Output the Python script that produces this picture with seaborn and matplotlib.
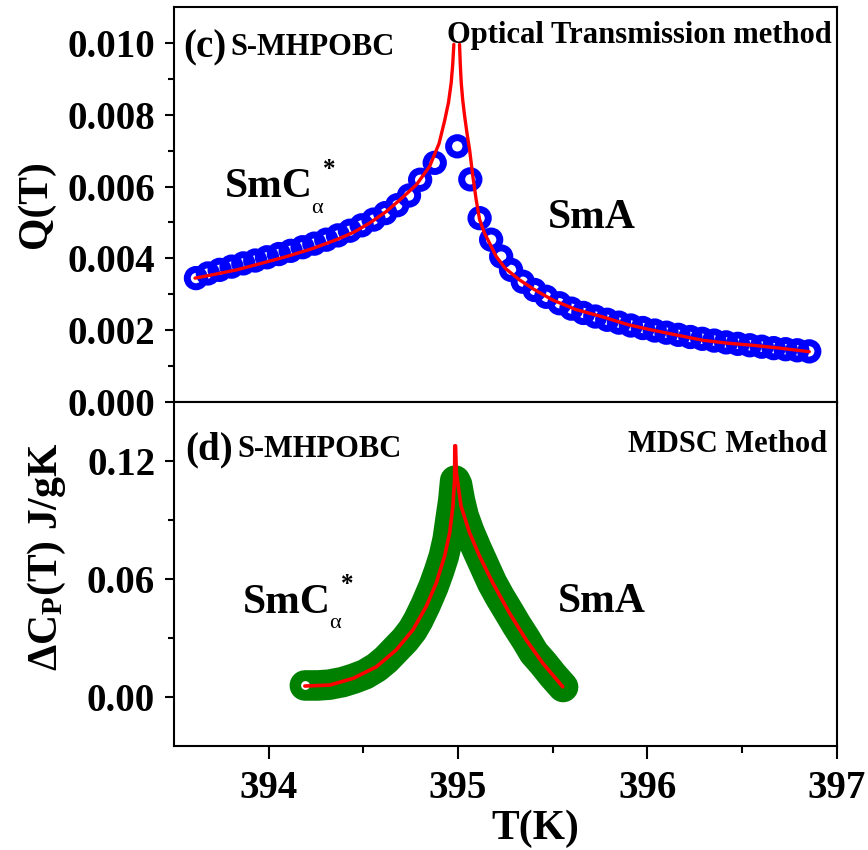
import numpy as np
import pandas as pd
import matplotlib
matplotlib.use("Agg")
import matplotlib.pyplot as plt
import seaborn as sns
from matplotlib.ticker import FixedLocator, FormatStrFormatter

# ---------------- data ----------------
# (c) Optical transmission: measured Q(T)
q_T = [393.616, 393.679, 393.741, 393.804, 393.866, 393.929, 393.991, 394.054,
       394.116, 394.179, 394.241, 394.304, 394.366, 394.429, 394.491, 394.554,
       394.616, 394.679, 394.741, 394.800, 394.877,
       394.996, 395.065, 395.114, 395.175, 395.228, 395.280, 395.342, 395.404,
       395.466, 395.536, 395.599, 395.662, 395.725, 395.788, 395.850, 395.913,
       395.976, 396.039, 396.101, 396.164, 396.227, 396.290, 396.353, 396.416,
       396.478, 396.541, 396.604, 396.667, 396.730, 396.792, 396.855]
q_val = [0.00345, 0.00358, 0.00368, 0.00377, 0.00386, 0.00394, 0.00403, 0.00412,
         0.00421, 0.00431, 0.00441, 0.00452, 0.00464, 0.00477, 0.00492, 0.00508,
         0.00526, 0.00548, 0.00575, 0.00619, 0.00666,
         0.00712, 0.00620, 0.00512, 0.00452, 0.00405, 0.00368, 0.00335, 0.00312,
         0.00293, 0.00275, 0.00260, 0.00248, 0.00238, 0.00229, 0.00221, 0.00213,
         0.00206, 0.00199, 0.00193, 0.00187, 0.00181, 0.00176, 0.00171, 0.00166,
         0.00162, 0.00158, 0.00154, 0.00150, 0.00147, 0.00144, 0.00141]

# (c) fit curve, SmC_alpha* side and SmA side
fitq_low_T = [393.611, 393.72, 393.831, 393.96, 394.094, 394.23, 394.358, 394.45,
              394.532, 394.62, 394.708, 394.78, 394.85, 394.90, 394.93, 394.95,
              394.964, 394.972, 394.978]
fitq_low_v = [0.00345, 0.00356, 0.00368, 0.00386, 0.00405, 0.00427, 0.00452, 0.00473,
              0.00498, 0.00530, 0.00570, 0.00605, 0.00656, 0.00720, 0.00785, 0.00835,
              0.00889, 0.00940, 0.00996]
fitq_high_T = [395.008, 395.012, 395.017, 395.025, 395.035, 395.047, 395.061, 395.078,
               395.096, 395.114, 395.14, 395.167, 395.202, 395.25, 395.325, 395.40,
               395.50, 395.62, 395.764, 395.90, 396.028, 396.16, 396.292, 396.42,
               396.556, 396.70, 396.855]
fitq_high_v = [0.00996, 0.00940, 0.00889, 0.00840, 0.00796, 0.00750, 0.00703, 0.00630,
               0.00563, 0.00508, 0.00470, 0.00442, 0.00405, 0.00372, 0.00340, 0.00314,
               0.00284, 0.00258, 0.00237, 0.00215, 0.00200, 0.00186, 0.00172, 0.00164,
               0.00158, 0.00150, 0.00140]

# (d) MDSC: measured delta Cp (ordered on cooling, high T -> low T)
cp_T = [395.555, 395.50, 395.45, 395.40, 395.36, 395.31, 395.27, 395.22, 395.18,
        395.14, 395.10, 395.06, 395.03, 395.01, 394.995, 394.985, 394.975, 394.96,
        394.945, 394.925, 394.90, 394.87, 394.83, 394.79, 394.76, 394.72, 394.67,
        394.62, 394.57, 394.51, 394.45, 394.39, 394.32, 394.26, 394.191]
cp_val = [0.0050, 0.0110, 0.0170, 0.0225, 0.0290, 0.0365, 0.0430, 0.0510, 0.0580,
          0.0665, 0.0750, 0.0840, 0.0920, 0.1000, 0.1080, 0.1100, 0.1000, 0.0900,
          0.0800, 0.0715, 0.0640, 0.0560, 0.0470, 0.0390, 0.0340, 0.0290, 0.0240,
          0.0190, 0.0150, 0.0115, 0.0093, 0.0075, 0.0062, 0.0058, 0.0058]

# (d) fit curve
fitc_low_T = [394.191, 394.323, 394.446, 394.569, 394.674, 394.762, 394.832, 394.885,
              394.929, 394.956, 394.973, 394.982, 394.983]
fitc_low_v = [0.0055, 0.0060, 0.0094, 0.0153, 0.0239, 0.0341, 0.0460, 0.0579,
              0.0715, 0.0835, 0.0970, 0.1107, 0.1277]
fitc_high_T = [394.987, 394.991, 395.016, 395.061, 395.114, 395.184, 395.272, 395.360,
               395.448, 395.553]
fitc_high_v = [0.1277, 0.1141, 0.0970, 0.0835, 0.0715, 0.0579, 0.0426, 0.0290,
               0.0171, 0.0051]

x_major = [394, 395, 396, 397]
x_minor = [394.5, 395.5, 396.5]
q_ticks = [0.000, 0.002, 0.004, 0.006, 0.008, 0.010]
q_minor = [0.001, 0.003, 0.005, 0.007, 0.009]
cp_ticks = [0.00, 0.06, 0.12]
cp_minor = [0.03, 0.09]

# ---------------- style ----------------
sns.set_theme(style="ticks")
plt.rcParams["font.family"] = ["Liberation Serif", "DejaVu Serif"]
plt.rcParams["font.weight"] = "bold"
plt.rcParams["axes.labelweight"] = "bold"
plt.rcParams["text.color"] = "black"
plt.rcParams["axes.labelcolor"] = "black"
plt.rcParams["xtick.color"] = "black"
plt.rcParams["ytick.color"] = "black"
plt.rcParams["mathtext.fontset"] = "custom"
plt.rcParams["mathtext.rm"] = "Liberation Serif:bold"
plt.rcParams["mathtext.bf"] = "Liberation Serif:bold"
plt.rcParams["mathtext.it"] = "Liberation Serif:italic:bold"

W, H = 868, 850
fig = plt.figure(figsize=(W / 100, H / 100), dpi=100)
fig.patch.set_facecolor("white")

L, R = 174, 836.7
def fx(px):
    return px / W
def fy(py):
    return 1 - py / H

ax1 = fig.add_axes([fx(L), fy(402), (R - L) / W, (402 - 7) / H])
ax2 = fig.add_axes([fx(L), fy(746), (R - L) / W, (746 - 402) / H])

BLUE = "#0000FF"
RED = "#FF0000"
GREEN = "#008000"

# ---- panel (c)
dq = pd.DataFrame({"T": q_T, "Q": q_val})
sns.scatterplot(data=dq, x="T", y="Q", ax=ax1, marker="o", s=12.5 ** 2,
                facecolor="none", edgecolor=BLUE, linewidth=5, zorder=2, legend=False)
sns.lineplot(x=fitq_low_T, y=fitq_low_v, ax=ax1, color=RED, lw=2.4, sort=False,
             estimator=None, zorder=3)
sns.lineplot(x=fitq_high_T, y=fitq_high_v, ax=ax1, color=RED, lw=2.4, sort=False,
             estimator=None, zorder=3)

# ---- panel (d)
dc = pd.DataFrame({"T": cp_T, "Cp": cp_val})
sns.lineplot(data=dc, x="T", y="Cp", ax=ax2, color=GREEN, lw=22, sort=False,
             estimator=None, solid_capstyle="round", solid_joinstyle="round", zorder=2)
sns.scatterplot(x=cp_T[-1:], y=cp_val[-1:], ax=ax2, color="white", s=40,
                linewidth=0, zorder=3, legend=False)
sns.lineplot(x=fitc_low_T, y=fitc_low_v, ax=ax2, color=RED, lw=2.6, sort=False,
             estimator=None, zorder=4)
sns.lineplot(x=fitc_high_T, y=fitc_high_v, ax=ax2, color=RED, lw=2.6, sort=False,
             estimator=None, zorder=4)

# ---- axes formatting
for ax in (ax1, ax2):
    ax.set_xlim(393.5, 397)
    ax.xaxis.set_major_locator(FixedLocator(x_major))
    ax.xaxis.set_minor_locator(FixedLocator(x_minor))
    for sp in ax.spines.values():
        sp.set_visible(True)
        sp.set_linewidth(1.5)
        sp.set_color("black")
    ax.tick_params(axis="x", which="major", direction="out", length=9.5, width=1.5,
                   top=False, labelsize=28, pad=8, colors="black")
    ax.tick_params(axis="x", which="minor", direction="out", length=5, width=1.5,
                   top=False, colors="black")
    ax.tick_params(axis="y", which="major", direction="out", length=6.5, width=1.5,
                   right=False, labelsize=28, pad=7, colors="black")
    ax.tick_params(axis="y", which="minor", direction="out", length=4.5, width=1.5,
                   right=False, colors="black")
    ax.set_facecolor("white")
    ax.grid(False)

ax1.set_ylim(0, 0.011)
ax1.yaxis.set_major_locator(FixedLocator(q_ticks))
ax1.yaxis.set_minor_locator(FixedLocator(q_minor))
ax1.yaxis.set_major_formatter(FormatStrFormatter("%.3f"))
ax1.tick_params(axis="x", labelbottom=False)
ax1.set_xlabel("")

ax2.set_ylim(-0.025, 0.15)
ax2.yaxis.set_major_locator(FixedLocator(cp_ticks))
ax2.yaxis.set_minor_locator(FixedLocator(cp_minor))
ax2.yaxis.set_major_formatter(FormatStrFormatter("%.2f"))

for lab in ax1.get_yticklabels() + ax2.get_yticklabels() + ax2.get_xticklabels():
    lab.set_fontweight("bold")

ax1.set_ylabel("Q(T)", fontsize=30, fontweight="bold")
ax1.yaxis.set_label_coords((55 - L) / (R - L), (402 - 204) / 395)
ax2.set_ylabel(r"ΔC$_{\mathbf{P}}$(T) J/gK", fontsize=30, fontweight="bold")
ax2.yaxis.set_label_coords((68 - L) / (R - L), (746 - 557) / 344)
ax2.set_xlabel("T(K)", fontsize=30, fontweight="bold")
ax2.xaxis.set_label_coords((535 - L) / (R - L), (746 - 810) / 344)

# ---- annotations
def txt(px, py, s, size, ha="left", weight="bold"):
    fig.text(fx(px), fy(py), s, fontsize=size, ha=ha, va="baseline",
             fontweight=weight, color="black")

txt(183, 57, "(c)", 28)
txt(230, 55, "S-MHPOBC", 22)
txt(832, 43, "Optical Transmission method", 22, ha="right")
txt(225, 197, "SmC", 30)
txt(317, 213, "α", 16, ha="center", weight="normal")
txt(329, 176, "*", 18, ha="center")
txt(548, 228, "SmA", 30)

txt(185, 459, "(d)", 28)
txt(237, 457, "S-MHPOBC", 22)
txt(827, 452, "MDSC Method", 22, ha="right")
txt(243, 613, "SmC", 30)
txt(335, 628, "α", 16, ha="center", weight="normal")
txt(347, 591, "*", 18, ha="center")
txt(558, 612, "SmA", 30)

fig.savefig("out.png", dpi=100, facecolor="white")
